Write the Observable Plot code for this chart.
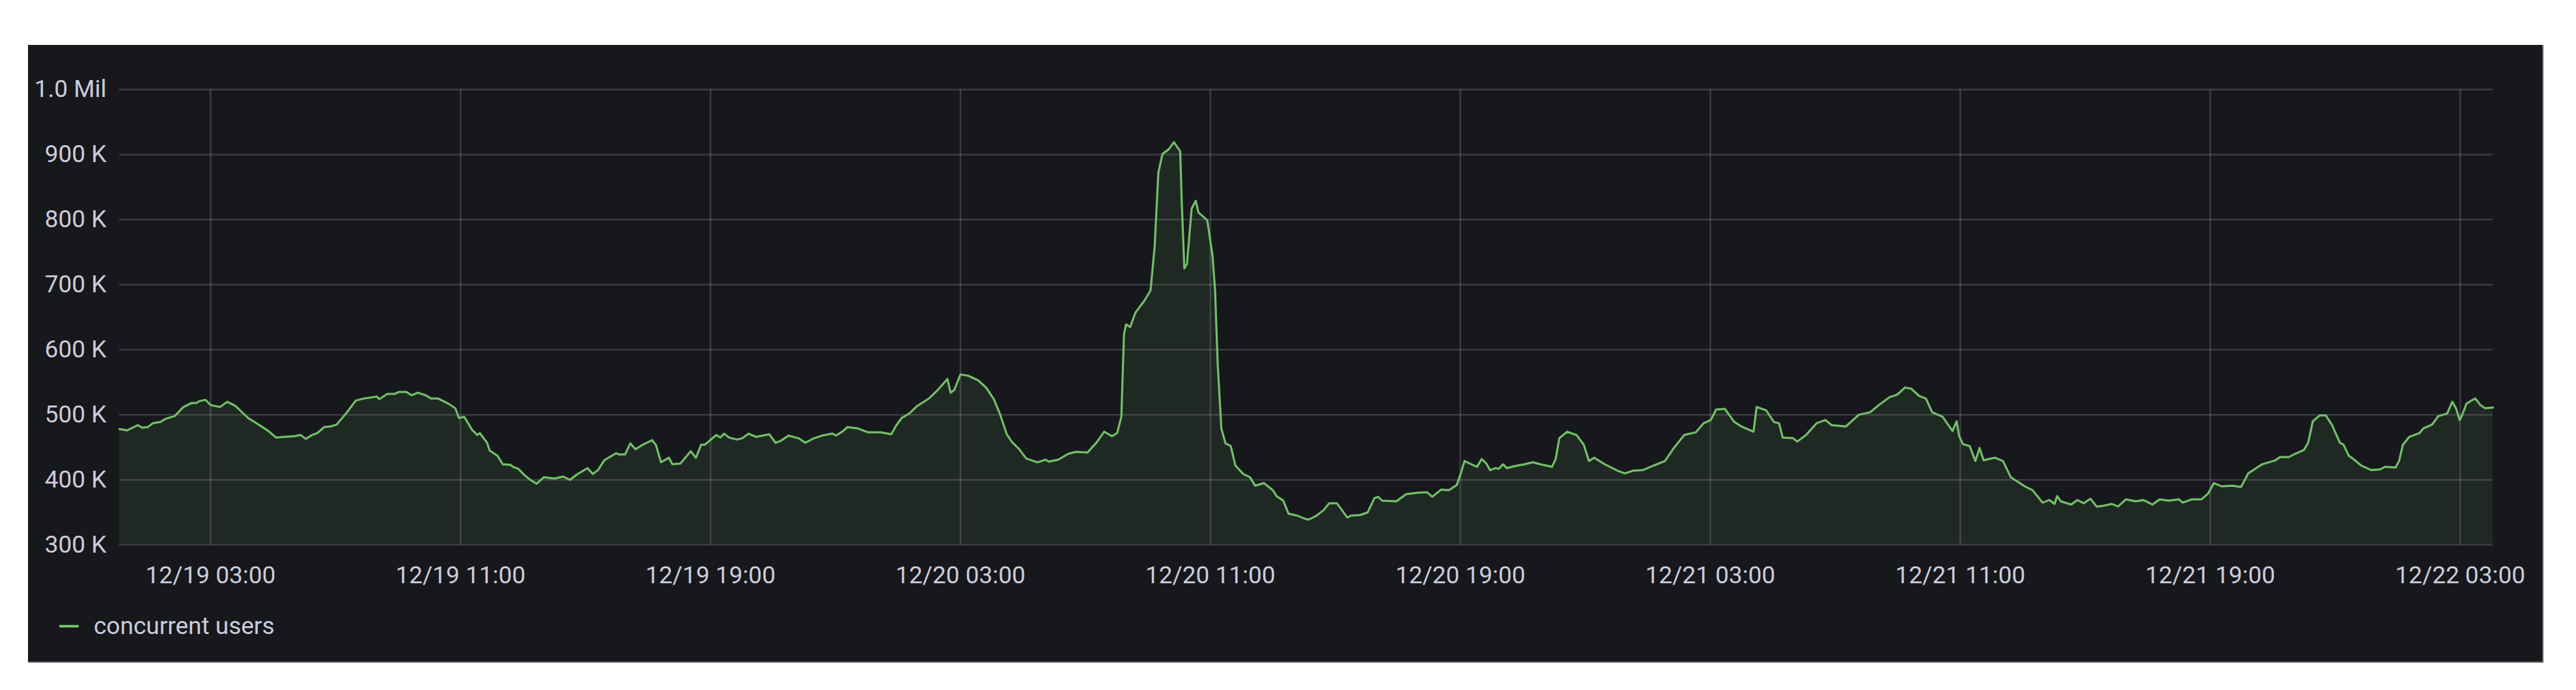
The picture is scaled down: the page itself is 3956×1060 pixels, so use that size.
<!DOCTYPE html>
<html>
<head>
<meta charset="utf-8">
<script src="https://cdn.jsdelivr.net/npm/d3@7"></script>
<script src="https://cdn.jsdelivr.net/npm/@observablehq/plot@0.6"></script>
<style>
  html, body { margin: 0; padding: 0; background: #ffffff; }
  body { width: 3956px; height: 1060px; position: relative; overflow: hidden; font-family: Roboto, "Noto Sans", sans-serif; }
  #panel { position: absolute; left: 43px; top: 69px; width: 3863px; height: 949px; background: #17181c;
           border-right: 2px solid #5c5c5c; border-bottom: 2px solid #5c5c5c; box-sizing: border-box; }
  #chart { position: absolute; left: 0; top: 0; }
  #legend { position: absolute; left: 48px; top: 871px; display: flex; align-items: center; color: #ccccdc; font-size: 37px; font-family: Roboto, sans-serif; }
  #legend .sw { width: 30px; height: 4px; background: #73bf69; margin-right: 23px; border-radius: 1px; }
</style>
</head>
<body>
<div id="panel">
  <div id="chart"></div>
  <div id="legend"><span class="sw"></span><span>concurrent users</span></div>
</div>
<script>
// Minutes since 12/19 00:00 (UTC-style clock as displayed)
const minutes = [
  5,20,40,49,59,69,84,94,111,128,143,153,158,170,180,198,212,227,252,272,291,306,321,341,353,363,375,385,398,410,422,440,459,474,499,504,519,533,541,556,566,578,593,603,617,637,650,657,667,682,692,697,711,716,731,741,756,
  761,771,783,796,806,820,840,857,870,885,904,914,924,936,959,964,976,986,996,1010,1028,1035,1045,1060,1067,1082,1102,1112,1122,1129,1151,1159,1166,1176,1191,1201,1213,1228,1253,1265,1275,1290,1309,1322,1339,1354,1374,1381,1393,1403,1423,1443,1467,1487,1497,1507,1522,
  1536,1546,1561,1575,1595,1601,1608,1620,1635,1654,1669,1684,1696,1709,1719,1733,1746,1768,1783,1790,1808,1827,1842,1864,1882,1896,1911,1921,1929,1934,1938,1946,1956,1973,1985,1993,2000,2008,2020,2030,2042,2045,2050,2055,2064,2072,2077,2094,2104,2109,2114,2121,2129,2139,2148,2163,2176,2186,2203,2220,2227,2240,2250,2267,2282,
  2289,2304,2318,2328,2343,2363,2370,2388,2402,2415,2422,2430,2457,2476,2496,2516,2526,2543,2558,2573,2581,2588,2598,2612,2621,2630,2637,2647,2654,2662,2669,2684,2704,2719,2733,2756,2763,2770,2785,2803,2817,2827,2837,2857,2882,2896,2911,2931,2951,2973,2990,3010,3032,3047,
  3061,3071,3088,3106,3120,3143,3149,3167,3182,3192,3199,3219,3227,3244,3264,3281,3293,3320,3345,3367,3382,3404,3419,3434,3446,3461,3474,3486,3506,3525,3533,3538,3545,3558,3569,3577,3585,3595,3607,3622,3637,3664,3679,3698,3711,3721,3726,3733,3753,3765,3777,3790,3802,
  3814,3831,3843,3858,3877,3892,3909,3923,3940,3960,3967,3984,4003,4016,4027,4042,4062,4079,4093,4120,4145,4154,4171,4183,4200,4208,4217,4230,4242,4254,4269,4276,4286,4295,4310,4329,4346,4356,4376,4383,4390,4402,4422,4429,4446,4458,4475,4485,4492,4499,4504,4512,4524,4529,4539,4548,4563
];
// Concurrent users, thousands
const users = [
  478,476,484,480,481,487,489,494,498,512,518,518,521,523,515,512,520,514,495,485,475,465,466,467,469,463,469,472,481,482,485,502,522,525,528,524,532,532,535,535,530,534,530,525,525,517,510,495,497,477,469,472,457,445,437,424,423,
  420,417,407,399,394,404,402,405,400,409,418,409,415,430,441,439,439,456,447,454,461,454,427,434,424,425,444,434,454,454,469,465,471,465,462,464,471,466,470,457,460,468,464,457,464,468,471,468,474,481,479,473,473,470,484,495,502,
  513,518,526,537,555,534,538,562,560,553,542,524,501,470,458,447,433,427,431,428,431,440,443,442,458,474,467,472,497,623,639,635,657,675,691,759,872,901,908,919,905,826,725,732,817,829,811,799,745,691,578,479,456,452,422,409,404,391,395,384,375,368,348,345,340,
  339,345,354,364,364,342,345,346,350,372,374,368,367,378,380,381,374,385,384,392,410,429,425,420,432,425,415,418,417,424,418,421,424,427,424,420,432,464,474,469,454,429,434,424,414,410,414,415,422,429,449,469,473,487,
  492,508,509,489,482,474,512,507,489,487,465,464,459,469,487,492,484,482,500,504,514,527,531,542,540,529,525,504,497,475,490,467,455,452,429,449,430,432,434,429,404,390,384,365,369,363,375,367,362,369,364,371,359,
  360,363,359,370,367,369,362,370,368,370,365,370,370,379,395,390,391,389,410,424,430,435,435,440,446,457,490,499,499,484,457,454,437,432,422,415,416,420,419,430,454,466,472,479,485,498,502,520,510,492,500,517,523,525,515,510,511
];
const tickHours = [3, 11, 19, 27, 35, 43, 51, 59, 67, 75]; // hours since 12/19 00:00
const yTicks = [300, 400, 500, 600, 700, 800, 900, 1000];
const yLabels = ["300 K", "400 K", "500 K", "600 K", "700 K", "800 K", "900 K", "1.0 Mil"];
const seriesName = "concurrent users";

const t0 = Date.UTC(2022, 11, 19, 0, 0);
const data = minutes.map((m, i) => ({t: new Date(t0 + m * 60000), v: users[i]}));
const xTicks = tickHours.map(h => new Date(t0 + h * 3600000));
const fmt = d3.utcFormat("%m/%d %H:%M");
const green = "#73bf69";
const gridColor = "#ccccdc";

const chart = Plot.plot({
  width: 3863,
  height: 830,
  marginLeft: 140,
  marginRight: 76,
  marginTop: 68,
  marginBottom: 62,
  style: {background: "transparent", color: "#ccccdc", fontFamily: "Roboto, sans-serif", fontSize: "37px", overflow: "visible"},
  x: {type: "utc", domain: [data[0].t, data[data.length - 1].t], label: null},
  y: {domain: [300, 1000], label: null},
  marks: [
    Plot.gridY(yTicks, {stroke: gridColor, strokeOpacity: 0.2, strokeWidth: 2.5}),
    Plot.gridX(xTicks, {stroke: gridColor, strokeOpacity: 0.2, strokeWidth: 2.5}),
    Plot.areaY(data, {x: "t", y1: 300, y2: "v", fill: green, fillOpacity: 0.1}),
    Plot.lineY(data, {x: "t", y: "v", stroke: green, strokeWidth: 3.2}),
    Plot.axisY(yTicks, {tickSize: 0, tickPadding: 20, tickFormat: d => yLabels[yTicks.indexOf(d)], fill: "#ccccdc", fontSize: 37}),
    Plot.axisX(xTicks, {tickSize: 0, tickPadding: 33, tickFormat: fmt, fill: "#ccccdc", fontSize: 37})
  ]
});
document.getElementById("chart").appendChild(chart);
</script>
</body>
</html>
